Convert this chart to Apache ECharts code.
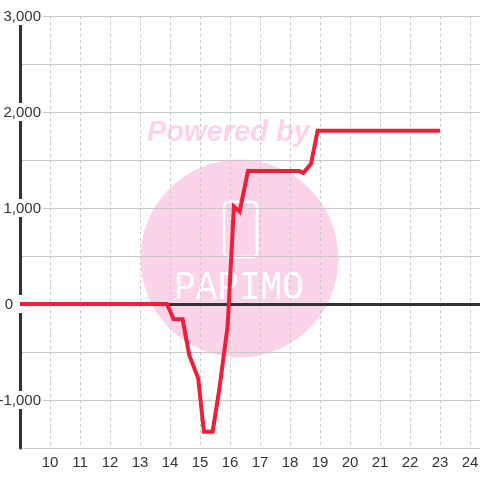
<!DOCTYPE html>
<html>
<head>
<meta charset="utf-8">
<script src="https://cdn.jsdelivr.net/npm/echarts@6/dist/echarts.min.js"></script>
<style>html,body{margin:0;padding:0;background:#fff;}#c{width:480px;height:480px;}</style>
</head>
<body>
<div id="c"></div>
<script>
// Data
const xValues = [9, 13.9, 14.12, 14.42, 14.64, 14.94, 15.13, 15.42, 15.64, 15.92, 16.13, 16.32, 16.6, 18.3, 18.44, 18.7, 18.92, 23];
const yValues = [0, 0, -160, -160, -530, -775, -1330, -1330, -895, -235, 1015, 962, 1385, 1385, 1365, 1460, 1805, 1805];
const yMin = -1500, yMax = 3000, yStep = 500;
const xMin = 9, xMax = 24.333, xStep = 1;

const seriesData = xValues.map((x, i) => [x, yValues[i]]);
const FONT = 'Liberation Sans';
const pink = '#fcd4ea';

const chart = echarts.init(document.getElementById('c'), null, {renderer: 'canvas'});
chart.setOption({
  animation: false,
  backgroundColor: '#fff',
  grid: {left: 20, right: 0, top: 16, bottom: 32, containLabel: false, outerBoundsMode: 'none'},
  graphic: [
    {type: 'circle', z: -10, silent: true, shape: {cx: 239.5, cy: 258.5, r: 99}, style: {fill: pink}},
    {type: 'text', z: -10, silent: true, style: {text: 'Powered by', x: 147, y: 133, fill: pink,
      font: 'italic bold 29px "Liberation Sans"', textAlign: 'left', textVerticalAlign: 'middle'}},
    {type: 'rect', z: -9, silent: true, shape: {x: 224, y: 202, width: 33, height: 55, r: 5},
      style: {fill: 'none', stroke: '#fff', lineWidth: 2.5}},
    {type: 'text', z: -9, silent: true, x: 239, y: 288, scaleY: 1.15, style: {text: 'PAPIMO', x: 0, y: 0, fill: '#fff',
      font: '36px "Liberation Mono"', textAlign: 'center', textVerticalAlign: 'middle'}}
  ],
  xAxis: [
    {
      type: 'value', min: xMin, max: xMax, interval: xStep, position: 'bottom',
      axisLine: {show: false, onZero: false},
      axisTick: {show: false},
      splitLine: {show: true, lineStyle: {color: '#c8c8c8', type: [3, 3], width: 1}},
      axisLabel: {show: true, showMinLabel: false, showMaxLabel: false, margin: 7,
        color: '#333', fontSize: 15, fontFamily: FONT,
        formatter: v => String(v)}
    },
    {
      type: 'value', min: xMin, max: xMax, interval: xStep,
      axisLine: {show: true, onZero: true, onZeroAxisIndex: 0, lineStyle: {color: '#333', width: 3}},
      axisTick: {show: false}, axisLabel: {show: false}, splitLine: {show: false}
    }
  ],
  yAxis: {
    type: 'value', min: yMin, max: yMax, interval: yStep,
    axisLine: {show: true, onZero: false, lineStyle: {color: '#333', width: 3}},
    axisTick: {show: false},
    splitLine: {show: true, lineStyle: {color: '#c8c8c8', width: 1}},
    axisLabel: {
      margin: -23,
      formatter: v => {
        if (v % 1000 !== 0) return '';
        return v === 0 ? '{z|0}' : '{a|' + v.toLocaleString('en-US') + '}';
      },
      rich: {
        a: {color: '#333', fontSize: 15, fontFamily: FONT, backgroundColor: '#fff', padding: [2, 2, 1, 2]},
        z: {color: '#333', fontSize: 15, fontFamily: FONT, backgroundColor: '#fff', padding: [2, 30, 1, 2]}
      }
    }
  },
  series: [{
    type: 'line', xAxisIndex: 0, yAxisIndex: 0, data: seriesData,
    symbol: 'none', z: 5,
    lineStyle: {color: '#ef1f3a', width: 4, join: 'miter'},
    itemStyle: {color: '#ef1f3a'}
  }]
});
</script>
</body>
</html>
